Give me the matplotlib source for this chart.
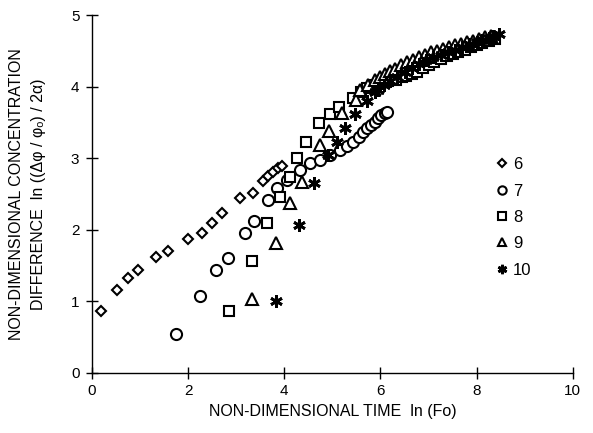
import matplotlib
matplotlib.use("Agg")
import matplotlib.pyplot as plt

plt.rcParams['font.family'] = ['Liberation Sans', 'DejaVu Sans']

# Series 6 (diamonds)
x6 = [0.19, 0.53, 0.75, 0.96, 1.33, 1.59, 2.00, 2.29, 2.50, 2.70, 3.08, 3.35, 3.56, 3.66, 3.77, 3.87, 3.96]
y6 = [0.86, 1.16, 1.33, 1.44, 1.62, 1.70, 1.87, 1.96, 2.09, 2.23, 2.44, 2.52, 2.68, 2.75, 2.81, 2.86, 2.89]

# Series 7 (circles)
x7 = [1.75, 2.25, 2.58, 2.83, 3.19, 3.38, 3.67, 3.84, 4.05, 4.32, 4.53, 4.74, 4.95, 5.16, 5.30,
      5.43, 5.55, 5.64, 5.72, 5.81, 5.88, 5.95, 6.02, 6.09, 6.13]
y7 = [0.55, 1.08, 1.44, 1.60, 1.95, 2.12, 2.42, 2.58, 2.70, 2.84, 2.93, 2.97, 3.04, 3.11, 3.17,
      3.23, 3.30, 3.37, 3.42, 3.46, 3.51, 3.56, 3.60, 3.63, 3.64]

# Series 8 (squares)
x8 = [2.86, 3.32, 3.65, 3.91, 4.12, 4.26, 4.46, 4.73, 4.95, 5.14, 5.43, 5.60, 5.71, 5.85, 6.00,
      6.15, 6.33, 6.45, 6.54, 6.65, 6.75, 6.88, 7.00, 7.12, 7.25, 7.38, 7.50, 7.62, 7.75, 7.88,
      8.00, 8.12, 8.25, 8.38]
y8 = [0.87, 1.56, 2.09, 2.46, 2.74, 3.00, 3.23, 3.49, 3.62, 3.72, 3.84, 3.92, 3.98, 4.02, 4.06,
      4.08, 4.10, 4.13, 4.15, 4.18, 4.21, 4.26, 4.31, 4.35, 4.39, 4.43, 4.46, 4.49, 4.52, 4.55,
      4.58, 4.61, 4.64, 4.67]

# Series 9 (triangles)
x9 = [3.32, 3.83, 4.12, 4.36, 4.74, 4.93, 5.21, 5.50, 5.57, 5.75, 5.88, 6.00, 6.10, 6.20, 6.30,
      6.42, 6.55, 6.68, 6.80, 6.92, 7.05, 7.18, 7.30, 7.42, 7.55, 7.68, 7.80, 7.92, 8.05, 8.18, 8.30]
y9 = [1.04, 1.82, 2.37, 2.67, 3.18, 3.38, 3.63, 3.81, 3.95, 4.03, 4.09, 4.14, 4.18, 4.22, 4.25,
      4.30, 4.35, 4.38, 4.42, 4.45, 4.48, 4.50, 4.53, 4.55, 4.58, 4.60, 4.62, 4.64, 4.67, 4.69, 4.71]

# Series 10 (stars)
x10 = [3.83, 4.30, 4.62, 4.91, 5.09, 5.26, 5.47, 5.71, 5.88, 5.95, 6.08, 6.20, 6.35, 6.50, 6.65,
       6.80, 6.95, 7.10, 7.25, 7.40, 7.55, 7.70, 7.85, 8.00, 8.12, 8.25, 8.35, 8.46]
y10 = [1.00, 2.07, 2.65, 3.04, 3.23, 3.42, 3.62, 3.80, 3.92, 3.95, 4.03, 4.08, 4.14, 4.20, 4.26,
       4.32, 4.37, 4.41, 4.45, 4.49, 4.52, 4.56, 4.59, 4.62, 4.65, 4.68, 4.71, 4.74]

labels = ['6', '7', '8', '9', '10']
xticks = [0, 2, 4, 6, 8, 10]
yticks = [0, 1, 2, 3, 4, 5]

fig = plt.figure(figsize=(5.93, 4.33), dpi=100)
ax = fig.add_axes([0.155, 0.1386, 0.811, 0.8264])

kw = dict(linestyle='none', markerfacecolor='white', markeredgecolor='black', color='black')
ax.plot(x6, y6, marker='D', markersize=5.5, markeredgewidth=1.5, label=labels[0], **kw)
ax.plot(x7, y7, marker='o', markersize=8, markeredgewidth=1.5, label=labels[1], **kw)
ax.plot(x8, y8, marker='s', markersize=7.5, markeredgewidth=1.5, label=labels[2], **kw)
ax.plot(x9, y9, marker='^', markersize=8, markeredgewidth=1.5, label=labels[3], **kw)
ax.plot(x10, y10, marker=(6, 2, 0), markersize=9, markeredgewidth=2.0, label=labels[4], **kw)

ax.set_xlim(0, 10)
ax.set_ylim(0, 5)
ax.set_xticks(xticks)
ax.set_yticks(yticks)
ax.spines['top'].set_visible(False)
ax.spines['right'].set_visible(False)
for s in ('left', 'bottom'):
    ax.spines[s].set_linewidth(1.0)
ax.tick_params(direction='inout', length=8, width=1.0, labelsize=11, colors='black')
ax.tick_params(axis='x', pad=4)
ax.tick_params(axis='y', pad=5)

ax.set_xlabel('NON-DIMENSIONAL TIME  ln (Fo)', fontsize=11.5, labelpad=4)
ax.set_ylabel('NON-DIMENSIONAL CONCENTRATION\nDIFFERENCE  ln ((Δφ / φₒ) / 2α)',
              fontsize=11.5, labelpad=18, linespacing=1.6)

leg = ax.legend(loc='upper left', bbox_to_anchor=(0.805, 0.645), frameon=False,
                fontsize=12, handletextpad=0.15, labelspacing=0.68, handlelength=1.0,
                markerscale=0.75)

fig.savefig('out.png', dpi=100)
